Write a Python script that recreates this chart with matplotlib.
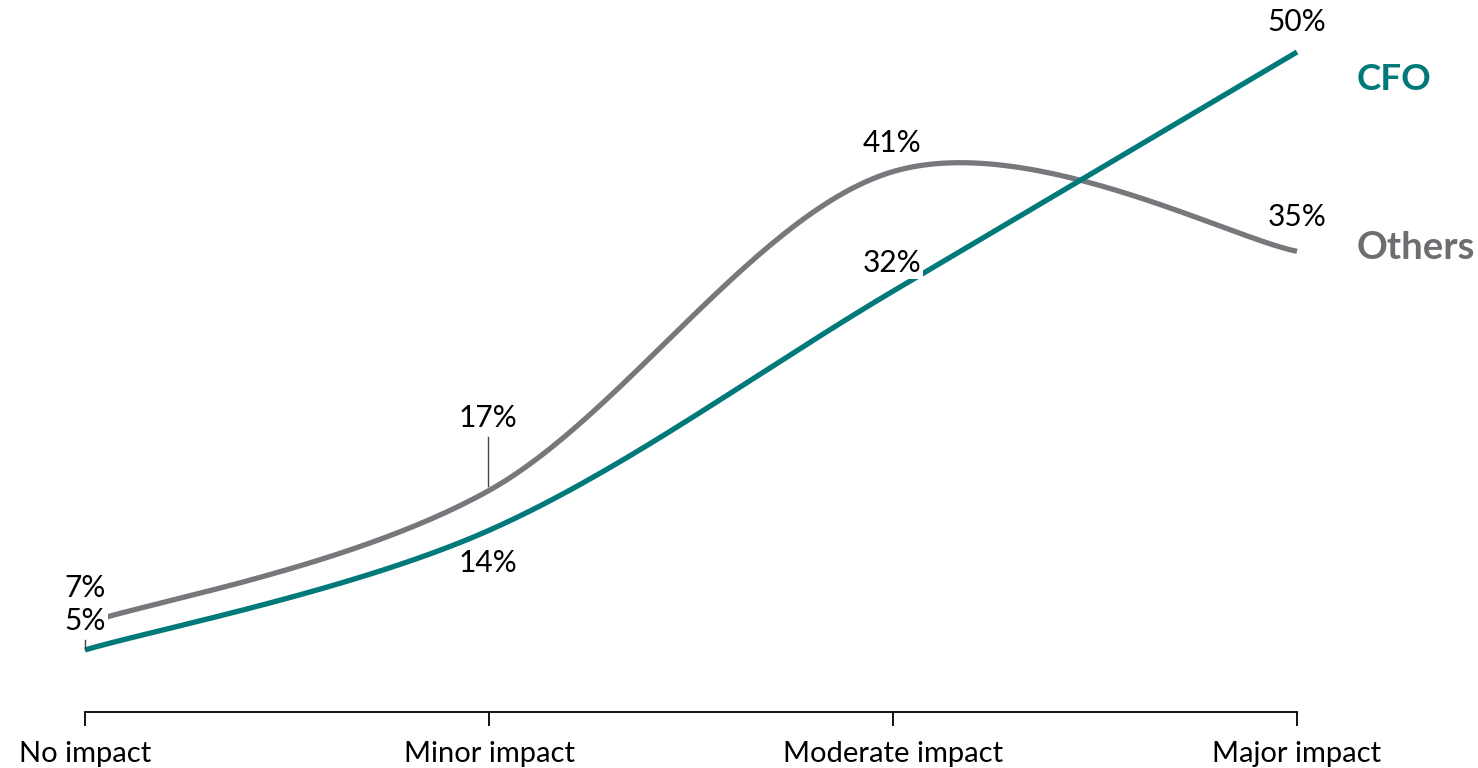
import numpy as np
import matplotlib
matplotlib.use("Agg")
import matplotlib.pyplot as plt

categories = ["No impact", "Minor impact", "Moderate impact", "Major impact"]
cfo = [5, 14, 32, 50]
others = [7, 17, 41, 35]
cfo_labels = ["5%", "14%", "32%", "50%"]
others_labels = ["7%", "17%", "41%", "35%"]

TEAL = "#00797B"
GREY = "#77787B"
GREY_TXT = "#6D6E71"

plt.rcParams['font.family'] = ['Lato', 'DejaVu Sans']

W, H = 1478, 768
fig = plt.figure(figsize=(W / 100, H / 100), dpi=100)
x0, x1 = 85, 1297
ybot, ytop = 712, 52
ax = fig.add_axes([x0 / W, 1 - ybot / H, (x1 - x0) / W, (ybot - ytop) / H])
ax.set_xlim(0, 3)
ax.set_ylim(0.33, 50)


def smooth(xs, ys, n=60):
    P = np.column_stack([xs, ys]).astype(float)
    pts = []
    m = len(P)
    for i in range(m - 1):
        p0 = P[i - 1] if i > 0 else P[i]
        p1 = P[i]
        p2 = P[i + 1]
        p3 = P[i + 2] if i + 2 < m else P[i + 1]
        c1 = p1 + (p2 - p0) / 6
        c2 = p2 - (p3 - p1) / 6
        t = np.linspace(0, 1, n)[:, None]
        seg = ((1 - t) ** 3) * p1 + 3 * ((1 - t) ** 2) * t * c1 + 3 * (1 - t) * t ** 2 * c2 + t ** 3 * p2
        pts.append(seg if i == 0 else seg[1:])
    s = np.vstack(pts)
    return s[:, 0], s[:, 1]

xs = np.arange(len(categories))
gx, gy = smooth(xs, others)
cx, cy = smooth(xs, cfo)
ax.plot(gx, gy, color=GREY, lw=3.8, solid_capstyle='butt', clip_on=False, zorder=2)
ax.plot(cx, cy, color=TEAL, lw=3.8, solid_capstyle='butt', clip_on=False, zorder=3)

for s in ['top', 'right', 'left']:
    ax.spines[s].set_visible(False)
ax.spines['bottom'].set_linewidth(1.3)
ax.spines['bottom'].set_color('black')
ax.set_yticks([])
ax.set_xticks(xs)
ax.set_xticklabels(categories, fontsize=21)
ax.tick_params(axis='x', length=10, width=1.3, direction='out', pad=11, colors='black')

fs = 21.5
bb = dict(facecolor='white', edgecolor='none', pad=1.5)


def px_to_data(px, py):
    inv = ax.transData.inverted()
    return inv.transform((px, H - py))

# (label, pixel center) positions
label_pos_others = [(85, 588), (488, 418), (892, 143), (1297, 217)]
label_pos_cfo = [(85, 621), (488, 563), (892, 263), (1297, 22)]
for lab, (px, py) in zip(others_labels, label_pos_others):
    dx, dy = px_to_data(px, py)
    ax.text(dx, dy, lab, fontsize=fs, ha='center', va='center', bbox=bb, zorder=5, color='black')
for lab, (px, py) in zip(cfo_labels, label_pos_cfo):
    dx, dy = px_to_data(px, py)
    ax.text(dx, dy, lab, fontsize=fs, ha='center', va='center', bbox=bb, zorder=5, color='black')

# leader lines
for (px, pa, pb) in [(85, 640, 649), (488, 437, 486)]:
    a = px_to_data(px, pa)
    b = px_to_data(px, pb)
    ax.plot([a[0], b[0]], [a[1], b[1]], color='#444444', lw=1.0, zorder=6, clip_on=False)

dx, dy = px_to_data(1357, 80)
ax.text(dx, dy, "CFO", fontsize=26.5, fontweight='bold', color=TEAL, ha='left', va='center', clip_on=False)
dx, dy = px_to_data(1357, 248)
ax.text(dx, dy, "Others", fontsize=27.5, fontweight='bold', color=GREY_TXT, ha='left', va='center', clip_on=False)

fig.savefig("out.png", dpi=100)
